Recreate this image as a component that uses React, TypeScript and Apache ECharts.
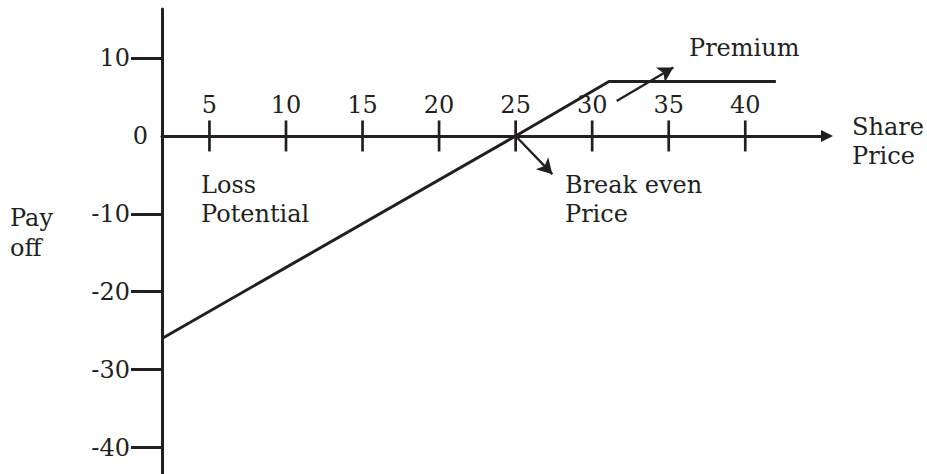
import { useEffect, useRef } from "react";
import * as echarts from "echarts";

// Share price tick values on the horizontal axis
const xTickValues = [5, 10, 15, 20, 25, 30, 35, 40];
// Pay-off tick values on the vertical axis (0 is labelled separately)
const yTickValues = [10, -10, -20, -30, -40];
const yZeroValue = [0];
// Pay-off line: share price -> pay-off
const payoffPrice = [1.9, 25, 31.1, 42];
const payoffValue = [-26, 0, 7, 7];
// Annotation arrows [from, to] in data coordinates
const breakEvenArrow = [
  [25, 0],
  [27.4, -4.9],
];
const premiumArrow = [
  [31.6, 4.5],
  [35.3, 8.8],
];
// Annotation texts
const annotationTexts = ["Pay\noff", "Loss\nPotential", "Break even\nPrice", "Premium", "Share\nPrice"];

const INK = "#231f20";
const FONT = "DejaVu Serif";

export default function App() {
  const ref = useRef<HTMLDivElement>(null);

  useEffect(() => {
    const chart = echarts.init(ref.current!, null, { renderer: "svg" });
    const labelFont = { fontFamily: FONT, fontSize: 24, color: INK, lineHeight: 24 };
    const txt = (text: string, x: number, y: number, lineHeight: number) => ({
      type: "text",
      x,
      y,
      silent: true,
      style: {
        text,
        fill: INK,
        fontFamily: FONT,
        fontSize: 24,
        lineHeight,
        align: "left",
        verticalAlign: "top",
      },
    });

    chart.setOption({
      animation: false,
      grid: { left: 162, top: 9, width: 665, height: 465 },
      xAxis: {
        type: "value",
        min: 1.9,
        max: 45.34,
        axisLine: {
          onZero: true,
          symbol: ["none", "triangle"],
          symbolSize: [12, 12],
          lineStyle: { color: INK, width: 3 },
        },
        axisTick: { show: false },
        splitLine: { show: false },
        axisLabel: { show: false },
      },
      yAxis: [
        {
          type: "value",
          position: "left",
          min: -43.4,
          max: 16.3,
          axisLine: { show: true, lineStyle: { color: INK, width: 3 } },
          axisTick: {
            show: true,
            customValues: yTickValues,
            length: 31,
            lineStyle: { color: INK, width: 3 },
          },
          splitLine: { show: false },
          axisLabel: { customValues: yTickValues, margin: 32, ...labelFont },
        },
        {
          type: "value",
          position: "left",
          min: -43.4,
          max: 16.3,
          axisLine: { show: false },
          axisTick: { show: false },
          splitLine: { show: false },
          axisLabel: { customValues: yZeroValue, margin: 14, ...labelFont },
        },
      ],
      series: [
        {
          type: "line",
          data: payoffPrice.map((x, i) => [x, payoffValue[i]]),
          symbol: "none",
          showSymbol: false,
          lineStyle: { color: INK, width: 3 },
          z: 2,
          markLine: {
            silent: true,
            symbol: ["none", "arrow"],
            symbolSize: [13, 15],
            label: { show: false },
            lineStyle: { color: INK, width: 2.3, type: "solid" },
            data: [
              [{ coord: breakEvenArrow[0] }, { coord: breakEvenArrow[1] }],
              [{ coord: premiumArrow[0] }, { coord: premiumArrow[1] }],
            ],
          },
        },
        {
          // tick marks crossing the share-price axis, labelled above
          type: "scatter",
          data: xTickValues.map((v) => [v, 0]),
          symbol: "rect",
          symbolSize: [2.7, 31],
          itemStyle: { color: INK, opacity: 1 },
          silent: true,
          z: 3,
          label: {
            show: true,
            position: "top",
            distance: 3,
            formatter: (p: any) => String(p.value[0]),
            ...labelFont,
          },
        },
      ],
      graphic: [
        txt(annotationTexts[0], 10, 203, 30),
        txt(annotationTexts[1], 201, 170, 29),
        txt(annotationTexts[2], 565, 170, 29),
        txt(annotationTexts[3], 689, 33, 29),
        txt(annotationTexts[4], 852, 112, 29),
      ],
    });

    return () => chart.dispose();
  }, []);

  return (
    <div
      ref={ref}
      style={{ position: "absolute", left: 0, top: 0, width: 927, height: 474, background: "#fff" }}
    />
  );
}
